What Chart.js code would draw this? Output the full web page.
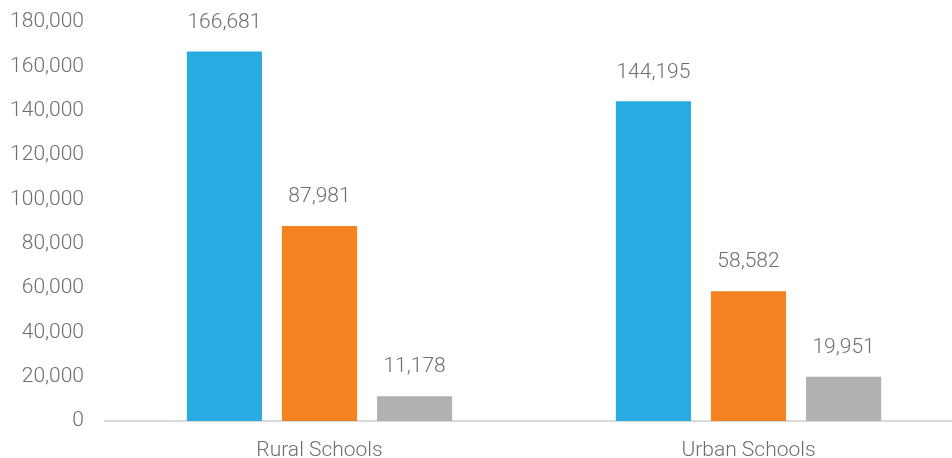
<!DOCTYPE html>
<html lang="en">
<head>
    <meta charset="UTF-8">
    <title>Rural vs Urban Schools</title>
    <style>
        html, body { margin: 0; padding: 0; background: #fff; overflow: hidden; }
        .wrap { width: 963px; height: 458px; position: relative; }
    </style>
</head>
<body>
    <div class="wrap">
        <canvas id="schoolsChart"></canvas>
    </div>

    <script src="https://cdn.jsdelivr.net/npm/chart.js"></script>
    <script>
        // data
        var categories = ['Rural Schools', 'Urban Schools'];
        var seriesA = [166681, 144195];
        var seriesB = [87981, 58582];
        var seriesC = [11178, 19951];
        var yTicks = [0, 20000, 40000, 60000, 80000, 100000, 120000, 140000, 160000, 180000];

        var textColor = '#6d6e71';
        var fontFamily = 'Roboto, "Liberation Sans", sans-serif';

        // simple value labels over each bar
        var barLabels = {
            id: 'barLabels',
            afterDatasetsDraw: function(chart) {
                var ctx = chart.ctx;
                ctx.save();
                ctx.fillStyle = textColor;
                ctx.font = '300 21px ' + fontFamily;
                ctx.textAlign = 'center';
                ctx.textBaseline = 'middle';
                chart.data.datasets.forEach(function(ds, i) {
                    chart.getDatasetMeta(i).data.forEach(function(bar, j) {
                        ctx.fillText(ds.data[j].toLocaleString('en-US'), bar.x, bar.y - 29);
                    });
                });
                ctx.restore();
            }
        };

        var ctx = document.getElementById('schoolsChart').getContext('2d');
        var chart = new Chart(ctx, {
            type: 'bar',
            data: {
                labels: categories,
                datasets: [
                    { data: seriesA, backgroundColor: '#29abe2' },
                    { data: seriesB, backgroundColor: '#f58220' },
                    { data: seriesC, backgroundColor: '#b1b1b3' }
                ]
            },
            options: {
                responsive: true,
                maintainAspectRatio: false,
                animation: false,
                layout: { padding: { top: 22, right: 0, left: 0, bottom: 0 } },
                categoryPercentage: 0.665,
                barPercentage: 0.79,
                plugins: {
                    legend: { display: false },
                    tooltip: { enabled: false }
                },
                scales: {
                    x: {
                        grid: { display: false },
                        border: { color: '#d9d9d9', width: 2 },
                        ticks: {
                            color: textColor,
                            font: { family: fontFamily, size: 21, weight: '300' },
                            padding: 9
                        },
                        afterFit: function(axis) { axis.height = 37; }
                    },
                    y: {
                        min: 0,
                        max: 180000,
                        grid: { display: false },
                        border: { display: false },
                        afterBuildTicks: function(axis) {
                            axis.ticks = yTicks.map(function(v) { return { value: v }; });
                        },
                        ticks: {
                            color: textColor,
                            font: { family: fontFamily, size: 21, weight: '300' },
                            padding: 13,
                            callback: function(v) { return v.toLocaleString('en-US'); }
                        },
                        afterFit: function(axis) {
                            axis.width = 105;
                            axis.paddingTop = 0;
                            axis.paddingBottom = 0;
                        }
                    }
                }
            },
            plugins: [barLabels]
        });
    </script>
</body>
</html>
